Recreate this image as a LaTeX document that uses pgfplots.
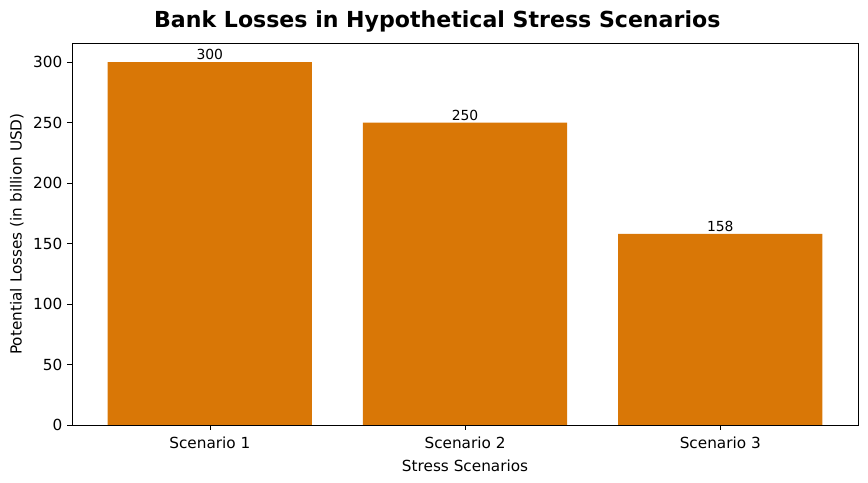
\documentclass[border=0pt]{standalone}
\usepackage{pgfplots}
\pgfplotsset{compat=1.18}
\usepackage{fontspec}
\setmainfont{DejaVu Sans}
\definecolor{baro}{HTML}{D97706}
\begin{document}
\begin{tikzpicture}[x=0.72pt,y=0.72pt]
\useasboundingbox (-72,-58) rectangle (796,425);
\begin{axis}[
  at={(0,0)}, anchor=south west,
  scale only axis,
  width=566pt, height=275pt,
  xmin=-0.54, xmax=2.54,
  ymin=0, ymax=315.7,
  xtick={0,1,2},
  xticklabels={Scenario 1, Scenario 2, Scenario 3},
  ytick={0,50,100,150,200,250,300},
  tick align=outside,
  tick pos=left,
  major tick length=3.5pt,
  tick style={black},
  ticklabel style={font=\fontsize{11}{13}\selectfont},
  xticklabel style={yshift=-1.5pt},
  /pgf/number format/assume math mode=true,
  xlabel={Stress Scenarios},
  ylabel={Potential Losses (in billion USD)},
  label style={font=\fontsize{11}{13}\selectfont},
  xlabel style={yshift=-1.5pt},
  ylabel style={yshift=0pt},
  title={\textbf{Bank Losses in Hypothetical Stress Scenarios}},
  title style={font=\fontsize{15.9}{18}\selectfont, xshift=-20pt, yshift=-1.5pt},
  ybar, bar width=0.8, bar shift=0pt,
  nodes near coords,
  every node near coord/.append style={font=\fontsize{10}{11}\selectfont, black, yshift=-2pt},
  axis line style={black},
]
\addplot[fill=baro, draw=none] coordinates {(0,300) (1,250) (2,158)};
\end{axis}
\end{tikzpicture}
\end{document}
